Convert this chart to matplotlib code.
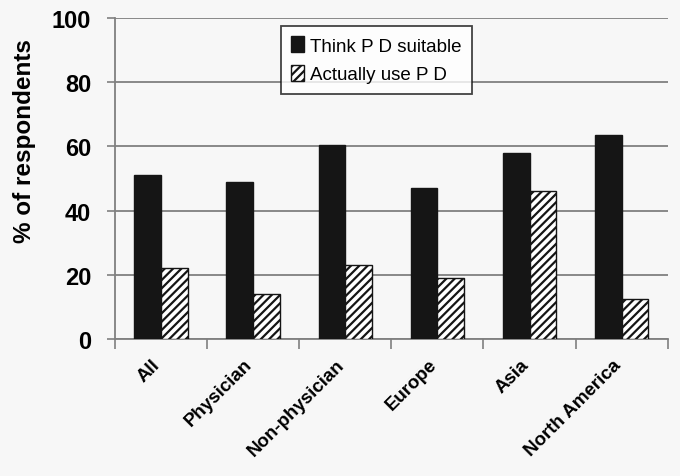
import matplotlib
matplotlib.use("Agg")
import matplotlib.pyplot as plt
import numpy as np

categories = ["All", "Physician", "Non-physician", "Europe", "Asia", "North America"]
think_suitable = [51, 49, 60.5, 47, 58, 63.5]
actually_use = [22, 14, 23, 19, 46, 12.5]
series_labels = ["Think P D suitable", "Actually use P D"]
y_ticks = [0, 20, 40, 60, 80, 100]
y_title = "% of respondents"

plt.rcParams["font.family"] = ["Liberation Sans", "DejaVu Sans"]
plt.rcParams["hatch.linewidth"] = 1.6

fig = plt.figure(figsize=(6.8, 4.77), dpi=100, facecolor="#f7f7f7")
ax = fig.add_axes([0.169, 0.287, 0.813, 0.673])
ax.set_facecolor("#f7f7f7")

x = np.arange(len(categories))
width = 0.29
ax.bar(x - width / 2, think_suitable, width, color="#151515",
       edgecolor="#151515", label=series_labels[0], zorder=3)
ax.bar(x + width / 2, actually_use, width, color="white", edgecolor="#151515",
       hatch="////", linewidth=1.0, label=series_labels[1], zorder=3)

ax.set_xlim(-0.5, len(categories) - 0.5)
ax.set_ylim(0, 100)
ax.set_yticks(y_ticks)
ax.set_yticklabels([str(t) for t in y_ticks], fontsize=17, fontweight="bold")
ax.grid(True, axis="y", color="#808080", linewidth=1.3, zorder=0)

# category labels sit a little left of centre; tick marks at the boundaries
ax.set_xticks(x - 0.1)
ax.set_xticklabels(categories, rotation=45, ha="right", rotation_mode="anchor",
                   fontsize=13.5, fontweight="bold")
ax.tick_params(axis="x", which="major", length=0, pad=12)
ax.set_xticks(np.arange(len(categories) + 1) - 0.5, minor=True)
ax.tick_params(axis="x", which="minor", length=7, width=1.2, color="#808080")
ax.tick_params(axis="y", length=6, width=1.2, color="#808080", pad=11)

for side in ["top", "right"]:
    ax.spines[side].set_visible(False)
for side in ["left", "bottom"]:
    ax.spines[side].set_color("#808080")
    ax.spines[side].set_linewidth(1.3)

ax.set_ylabel(y_title, fontsize=17.5, fontweight="bold")
ax.yaxis.set_label_coords(-0.143, 0.62)

leg = ax.legend(loc="upper left", bbox_to_anchor=(0.3, 0.975), fontsize=13.5,
                frameon=True, fancybox=False, edgecolor="#151515",
                handlelength=0.7, handleheight=0.9, handletextpad=0.3,
                borderpad=0.55, labelspacing=0.55, borderaxespad=0)
leg.get_frame().set_linewidth(1.3)
leg.get_frame().set_facecolor("white")

fig.savefig("out.png", dpi=100, facecolor=fig.get_facecolor())
